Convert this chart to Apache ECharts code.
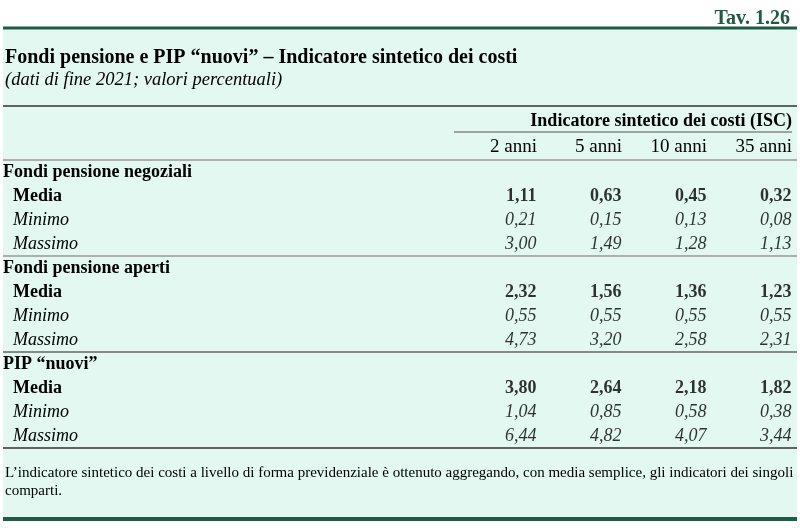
<!DOCTYPE html>
<html><head><meta charset="utf-8">
<script src="https://cdn.jsdelivr.net/npm/echarts@6/dist/echarts.min.js"></script>
<style>html,body{margin:0;padding:0;background:#fff}#c{width:800px;height:531px}</style>
</head><body><div id="c"></div>
<script>
const columns = ['2 anni', '5 anni', '10 anni', '35 anni'];
const groups = ['Fondi pensione negoziali', 'Fondi pensione aperti', 'PIP “nuovi”'];
const statLabels = ['Media', 'Minimo', 'Massimo'];
const negozialiMedia = [1.11, 0.63, 0.45, 0.32];
const negozialiMin = [0.21, 0.15, 0.13, 0.08];
const negozialiMax = [3.00, 1.49, 1.28, 1.13];
const apertiMedia = [2.32, 1.56, 1.36, 1.23];
const apertiMin = [0.55, 0.55, 0.55, 0.55];
const apertiMax = [4.73, 3.20, 2.58, 2.31];
const pipMedia = [3.80, 2.64, 2.18, 1.82];
const pipMin = [1.04, 0.85, 0.58, 0.38];
const pipMax = [6.44, 4.82, 4.07, 3.44];

const groupData = [
  [negozialiMedia, negozialiMin, negozialiMax],
  [apertiMedia, apertiMin, apertiMax],
  [pipMedia, pipMin, pipMax]
];

const rowKeys = [];
const rowText = {};
const rowKind = {};
groups.forEach((g, gi) => {
  const hk = 'g' + gi;
  rowKeys.push(hk); rowText[hk] = g; rowKind[hk] = 'h';
  statLabels.forEach((s, si) => {
    const k = 'g' + gi + 's' + si;
    rowKeys.push(k); rowText[k] = s; rowKind[k] = si === 0 ? 'm' : 'i';
  });
});

const FONT = '"Liberation Serif", "Times New Roman", serif';
const INK = '#000';
const fmt = v => v.toFixed(2).replace('.', ',');

function makeSeries(si) {
  const data = [];
  groupData.forEach((gd, gi) => {
    gd[si].forEach((v, ci) => data.push([ci + 1, 'g' + gi + 's' + si, v]));
  });
  return {
    type: 'scatter', symbolSize: 1, itemStyle: { color: 'transparent' },
    data: data, silent: true,
    label: {
      show: true, position: 'left', distance: 0,
      formatter: p => fmt(p.value[2]),
      fontFamily: FONT, fontSize: 18, color: INK,
      fontWeight: si === 0 ? 'bold' : 'normal',
      fontStyle: si === 0 ? 'normal' : 'italic'
    }
  };
}

const chart = echarts.init(document.getElementById('c'));
const hline = (y, x1, x2, color, w) => ({ type: 'line', shape: { x1: x1, y1: y, x2: x2, y2: y }, style: { stroke: color, lineWidth: w }, silent: true });

chart.setOption({
  animation: false,
  backgroundColor: '#fff',
  grid: { left: 452, right: 8, top: 160, bottom: 83 },
  xAxis: {
    type: 'value', position: 'top', min: 0, max: 4, interval: 1,
    axisLine: { show: false }, axisTick: { show: false }, splitLine: { show: false },
    axisLabel: {
      align: 'right', margin: 3, fontFamily: FONT, fontSize: 19, color: INK,
      formatter: v => (v >= 1 && v <= 4 ? columns[v - 1] : '')
    }
  },
  yAxis: {
    type: 'category', inverse: true, data: rowKeys,
    axisLine: { show: false }, axisTick: { show: false }, splitLine: { show: false },
    axisLabel: {
      interval: 0, align: 'left', margin: 449,
      formatter: v => '{' + rowKind[v] + '|' + rowText[v] + '}',
      rich: {
        h: { fontFamily: FONT, fontSize: 18, fontWeight: 'bold', color: INK },
        m: { fontFamily: FONT, fontSize: 18, fontWeight: 'bold', color: INK, padding: [0, 0, 0, 10] },
        i: { fontFamily: FONT, fontSize: 18, fontStyle: 'italic', color: INK, padding: [0, 0, 0, 10] }
      }
    }
  },
  series: [makeSeries(0), makeSeries(1), makeSeries(2)],
  graphic: [
    { type: 'rect', z: -10, shape: { x: 3, y: 29, width: 794, height: 489 }, style: { fill: '#e2f8f1' }, silent: true },
    hline(28, 3, 797, '#1f5a44', 3),
    hline(519, 3, 797, '#1f5a44', 4),
    { type: 'text', style: { x: 790, y: 19, text: 'Tav. 1.26', textAlign: 'right', textVerticalAlign: 'middle', font: 'bold 20px ' + FONT, fill: '#1f5a44' } },
    { type: 'text', style: { x: 5, y: 58, text: 'Fondi pensione e PIP “nuovi” – Indicatore sintetico dei costi', textVerticalAlign: 'middle', font: 'bold 20px ' + FONT, fill: INK } },
    { type: 'text', style: { x: 5, y: 80, text: '(dati di fine 2021; valori percentuali)', textVerticalAlign: 'middle', font: 'italic 18.5px ' + FONT, fill: INK } },
    hline(106, 3, 797, '#333', 1.5),
    { type: 'text', style: { x: 792, y: 121, text: 'Indicatore sintetico dei costi (ISC)', textAlign: 'right', textVerticalAlign: 'middle', font: 'bold 18px ' + FONT, fill: INK } },
    hline(132, 454, 792, '#888', 1.5),
    hline(160, 3, 797, '#999', 1.5),
    hline(256, 3, 797, '#999', 1.5),
    hline(352, 3, 797, '#666', 1.5),
    hline(448, 3, 797, '#333', 1.5),
    { type: 'text', style: { x: 5, y: 482, text: 'L’indicatore sintetico dei costi a livello di forma previdenziale è ottenuto aggregando, con media semplice, gli indicatori dei singoli\ncomparti.', textVerticalAlign: 'middle', font: '15px ' + FONT, lineHeight: 18, fill: INK } }
  ]
});
</script></body></html>
